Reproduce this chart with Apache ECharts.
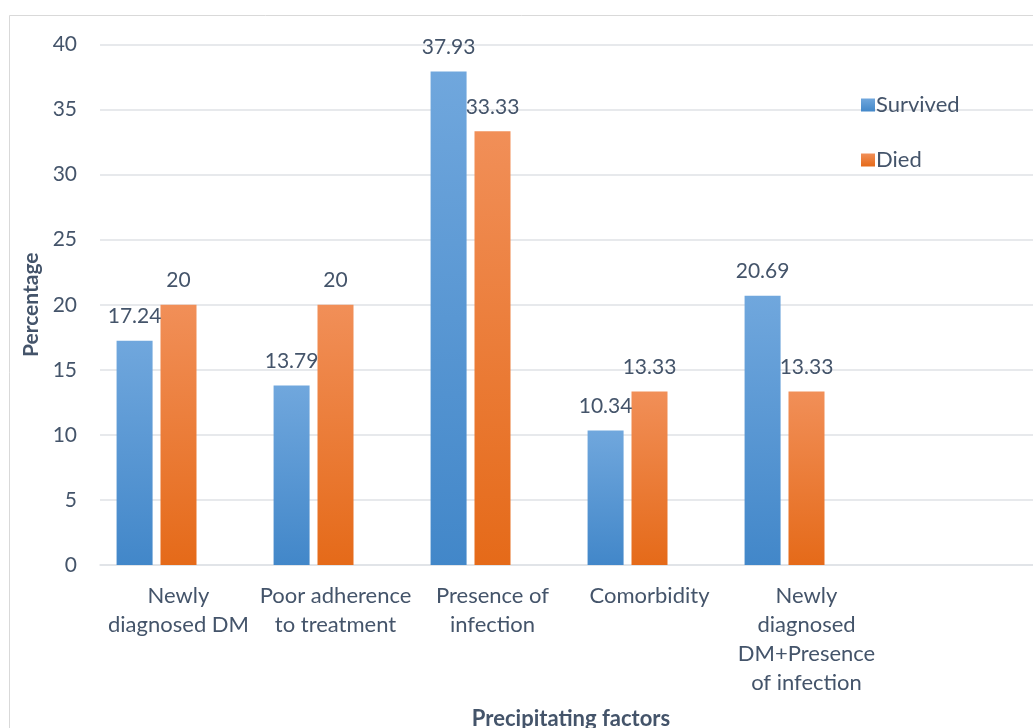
<!DOCTYPE html>
<html>
<head>
<meta charset="utf-8">
<script src="https://cdn.jsdelivr.net/npm/echarts@6/dist/echarts.min.js"></script>
<style>
  html, body { margin: 0; padding: 0; background: #ffffff; overflow: hidden; }
  #chart { width: 1033px; height: 728px; }
</style>
</head>
<body>
<div id="chart"></div>
<script>
// Precipitating factors of the patients, by outcome (percent)
const categories = [
  'Newly\ndiagnosed DM',
  'Poor adherence\nto treatment',
  'Presence of\ninfection',
  'Comorbidity',
  'Newly\ndiagnosed\nDM+Presence\nof infection',
  ''
];
const survived = [17.24, 13.79, 37.93, 10.34, 20.69, null];
const died = [20, 20, 33.33, 13.33, 13.33, null];
const emptySeries = [null, null, null, null, null, null];
const yTicks = { min: 0, max: 40, interval: 5 };

const textColor = '#44546A';
const fontFamily = 'Lato, "Open Sans", sans-serif';

function grad(top, bottom) {
  return new echarts.graphic.LinearGradient(0, 0, 0, 1, [
    { offset: 0, color: top },
    { offset: 1, color: bottom }
  ]);
}

const labelStyle = {
  show: true,
  position: 'top',
  distance: 14,
  color: textColor,
  fontSize: 21,
  fontFamily: fontFamily
};

const chart = echarts.init(document.getElementById('chart'), null, { renderer: 'canvas' });
chart.setOption({
  animation: false,
  backgroundColor: '#ffffff',
  textStyle: { fontFamily: fontFamily, color: textColor },
  graphic: [{
    type: 'rect',
    shape: { x: 9.5, y: 15.5, width: 1100, height: 800 },
    style: { fill: 'none', stroke: '#d9d9d9', lineWidth: 1 },
    z: -10
  }],
  grid: {
    left: 100, right: -9, top: 44.5, bottom: 163,
    containLabel: false,
    outerBoundsMode: 'none'
  },
  legend: {
    data: ['Survived', 'Died'],
    orient: 'vertical',
    left: 856,
    top: 89,
    itemWidth: 14,
    itemHeight: 13,
    itemGap: 33,
    icon: 'rect',
    textStyle: { color: textColor, fontSize: 22, fontFamily: fontFamily, padding: [0, 0, 0, -4] }
  },
  xAxis: {
    type: 'category',
    data: categories,
    name: 'Precipitating factors',
    nameLocation: 'middle',
    nameGap: 143,
    nameTextStyle: { color: textColor, fontSize: 22, fontWeight: 'bold', fontFamily: fontFamily },
    axisLine: { show: true, lineStyle: { color: '#dfe2e6', width: 1.5 } },
    axisTick: { show: false },
    axisLabel: {
      interval: 0,
      margin: 16,
      color: textColor,
      fontSize: 22,
      lineHeight: 29,
      fontFamily: fontFamily
    }
  },
  yAxis: {
    type: 'value',
    min: yTicks.min,
    max: yTicks.max,
    interval: yTicks.interval,
    name: 'Percentage',
    nameLocation: 'middle',
    nameGap: 56,
    nameTextStyle: { color: textColor, fontSize: 21, fontWeight: 'bold', fontFamily: fontFamily },
    axisLine: { show: false },
    axisTick: { show: false },
    axisLabel: { margin: 23, color: textColor, fontSize: 21, fontFamily: fontFamily },
    splitLine: { lineStyle: { color: '#dfe2e6', width: 1.5 } }
  },
  series: [
    {
      name: 'Survived',
      type: 'bar',
      data: survived,
      barWidth: 36,
      barGap: '22%',
      itemStyle: { color: grad('#70a7dd', '#4287c9') },
      label: labelStyle,
      z: 2
    },
    {
      name: 'Died',
      type: 'bar',
      data: died,
      barWidth: 36,
      barGap: '22%',
      itemStyle: { color: grad('#f18f58', '#e56a19') },
      label: labelStyle,
      z: 2
    },
    {
      name: 'Other',
      type: 'bar',
      data: emptySeries,
      barWidth: 36,
      barGap: '22%',
      itemStyle: { color: '#a5a5a5' }
    }
  ]
});
</script>
</body>
</html>
